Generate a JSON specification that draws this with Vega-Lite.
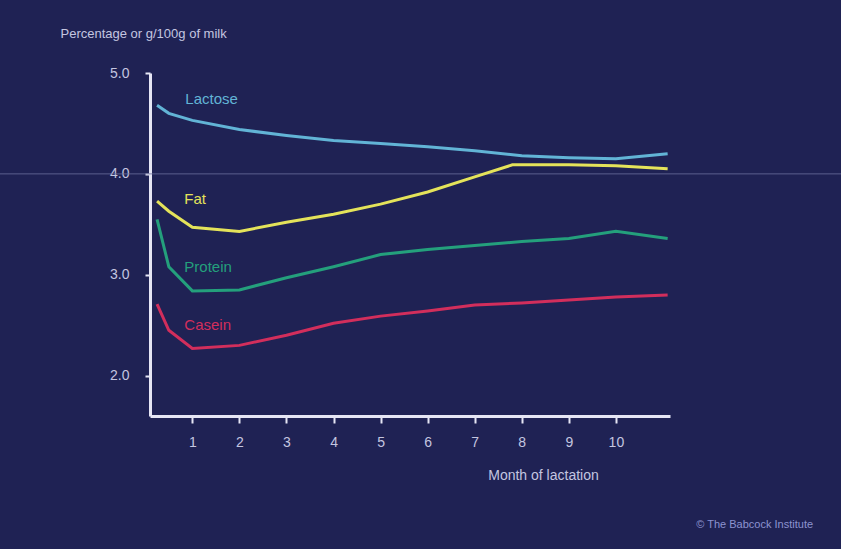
{
  "$schema": "https://vega.github.io/schema/vega-lite/v6.json",
  "width": 520,
  "height": 343,
  "autosize": {"type": "none"},
  "padding": {"left": 150, "top": 73, "right": 171, "bottom": 133},
  "background": "#1f2254",
  "config": {
    "view": {"stroke": null},
    "font": "Liberation Sans",
    "axis": {"grid": false}
  },
  "datasets": {
    "milk": [
      {"component": "Lactose", "month": 0.25, "value": 4.68},
      {"component": "Lactose", "month": 0.5, "value": 4.6},
      {"component": "Lactose", "month": 1, "value": 4.53},
      {"component": "Lactose", "month": 2, "value": 4.44},
      {"component": "Lactose", "month": 3, "value": 4.38},
      {"component": "Lactose", "month": 4, "value": 4.33},
      {"component": "Lactose", "month": 5, "value": 4.3},
      {"component": "Lactose", "month": 6, "value": 4.27},
      {"component": "Lactose", "month": 7, "value": 4.23},
      {"component": "Lactose", "month": 8, "value": 4.18},
      {"component": "Lactose", "month": 9, "value": 4.16},
      {"component": "Lactose", "month": 10, "value": 4.15},
      {"component": "Lactose", "month": 11.1, "value": 4.2},
      {"component": "Fat", "month": 0.25, "value": 3.73},
      {"component": "Fat", "month": 0.5, "value": 3.63},
      {"component": "Fat", "month": 1, "value": 3.47},
      {"component": "Fat", "month": 2, "value": 3.43},
      {"component": "Fat", "month": 3, "value": 3.52},
      {"component": "Fat", "month": 4, "value": 3.6},
      {"component": "Fat", "month": 5, "value": 3.7},
      {"component": "Fat", "month": 6, "value": 3.82},
      {"component": "Fat", "month": 7, "value": 3.97},
      {"component": "Fat", "month": 7.8, "value": 4.09},
      {"component": "Fat", "month": 9, "value": 4.09},
      {"component": "Fat", "month": 10, "value": 4.08},
      {"component": "Fat", "month": 11.1, "value": 4.05},
      {"component": "Protein", "month": 0.25, "value": 3.55},
      {"component": "Protein", "month": 0.5, "value": 3.08},
      {"component": "Protein", "month": 1, "value": 2.84},
      {"component": "Protein", "month": 2, "value": 2.85},
      {"component": "Protein", "month": 3, "value": 2.97},
      {"component": "Protein", "month": 4, "value": 3.08},
      {"component": "Protein", "month": 5, "value": 3.2},
      {"component": "Protein", "month": 6, "value": 3.25},
      {"component": "Protein", "month": 7, "value": 3.29},
      {"component": "Protein", "month": 8, "value": 3.33},
      {"component": "Protein", "month": 9, "value": 3.36},
      {"component": "Protein", "month": 10, "value": 3.43},
      {"component": "Protein", "month": 11.1, "value": 3.36},
      {"component": "Casein", "month": 0.25, "value": 2.71},
      {"component": "Casein", "month": 0.5, "value": 2.45},
      {"component": "Casein", "month": 1, "value": 2.27},
      {"component": "Casein", "month": 2, "value": 2.3},
      {"component": "Casein", "month": 3, "value": 2.4},
      {"component": "Casein", "month": 4, "value": 2.52},
      {"component": "Casein", "month": 5, "value": 2.59},
      {"component": "Casein", "month": 6, "value": 2.64},
      {"component": "Casein", "month": 7, "value": 2.7},
      {"component": "Casein", "month": 8, "value": 2.72},
      {"component": "Casein", "month": 9, "value": 2.75},
      {"component": "Casein", "month": 10, "value": 2.78},
      {"component": "Casein", "month": 11.1, "value": 2.8}
    ],
    "labels": [
      {"component": "Lactose", "month": 0.85, "value": 4.74},
      {"component": "Fat", "month": 0.83, "value": 3.75},
      {"component": "Protein", "month": 0.83, "value": 3.08},
      {"component": "Casein", "month": 0.83, "value": 2.5}
    ]
  },
  "layer": [
    {
      "data": {"values": [{"value": 4.0}]},
      "mark": {"type": "rule", "color": "#6a6f9c", "strokeWidth": 1, "opacity": 0.8},
      "encoding": {
        "y": {"field": "value", "type": "quantitative", "scale": {"domain": [1.6, 5.0]}},
        "x": {"datum": -3.1, "type": "quantitative", "scale": {"domain": [0.1, 11.15]}},
        "x2": {"datum": 14.9}
      }
    },
    {
      "data": {"name": "milk"},
      "mark": {"type": "line", "strokeWidth": 3, "clip": false},
      "encoding": {
        "x": {
          "field": "month",
          "type": "quantitative",
          "scale": {"domain": [0.1, 11.15], "nice": false, "zero": false},
          "axis": {
            "values": [1, 2, 3, 4, 5, 6, 7, 8, 9, 10],
            "format": "d",
            "domainColor": "#e6e6f5",
            "domainWidth": 3,
            "tickColor": "#e6e6f5",
            "tickSize": 7,
            "tickWidth": 2,
            "labelColor": "#c4c6e0",
            "labelFontSize": 14,
            "labelPadding": 12,
            "title": "Month of lactation",
            "titleColor": "#c4c6e0",
            "titleFontSize": 14,
            "titleFontWeight": "normal",
            "titleAlign": "center",
            "titleX": 393,
            "titleY": 52
          }
        },
        "y": {
          "field": "value",
          "type": "quantitative",
          "scale": {"domain": [1.6, 5.0], "nice": false, "zero": false},
          "axis": {
            "values": [2, 3, 4, 5],
            "format": ".1f",
            "domainColor": "#e6e6f5",
            "domainWidth": 3,
            "tickColor": "#e6e6f5",
            "tickSize": 5,
            "tickWidth": 2,
            "labelColor": "#c4c6e0",
            "labelFontSize": 14,
            "labelPadding": 16,
            "title": "Percentage or g/100g of milk",
            "titleColor": "#c4c6e0",
            "titleFontSize": 13,
            "titleFontWeight": "normal",
            "titleAngle": 0,
            "titleAlign": "left",
            "titleBaseline": "middle",
            "titleX": -90,
            "titleY": -40
          }
        },
        "color": {
          "field": "component",
          "type": "nominal",
          "scale": {
            "domain": ["Lactose", "Fat", "Protein", "Casein"],
            "range": ["#62b4d6", "#e4e35a", "#24a07c", "#d22e5c"]
          },
          "legend": null
        },
        "detail": {"field": "component"}
      }
    },
    {
      "data": {"name": "labels"},
      "mark": {"type": "text", "align": "left", "baseline": "middle", "fontSize": 15, "font": "Liberation Sans"},
      "encoding": {
        "x": {"field": "month", "type": "quantitative"},
        "y": {"field": "value", "type": "quantitative"},
        "text": {"field": "component"},
        "color": {
          "field": "component",
          "type": "nominal",
          "scale": {
            "domain": ["Lactose", "Fat", "Protein", "Casein"],
            "range": ["#62b4d6", "#e4e35a", "#24a07c", "#d22e5c"]
          },
          "legend": null
        }
      }
    },
    {
      "data": {"values": [{"note": "© The Babcock Institute"}]},
      "mark": {"type": "text", "align": "right", "baseline": "middle", "fontSize": 11, "font": "Liberation Sans", "color": "#8c93d0", "clip": false},
      "encoding": {
        "x": {"datum": 14.19, "type": "quantitative"},
        "y": {"datum": 0.52, "type": "quantitative"},
        "text": {"field": "note"}
      }
    }
  ]
}
